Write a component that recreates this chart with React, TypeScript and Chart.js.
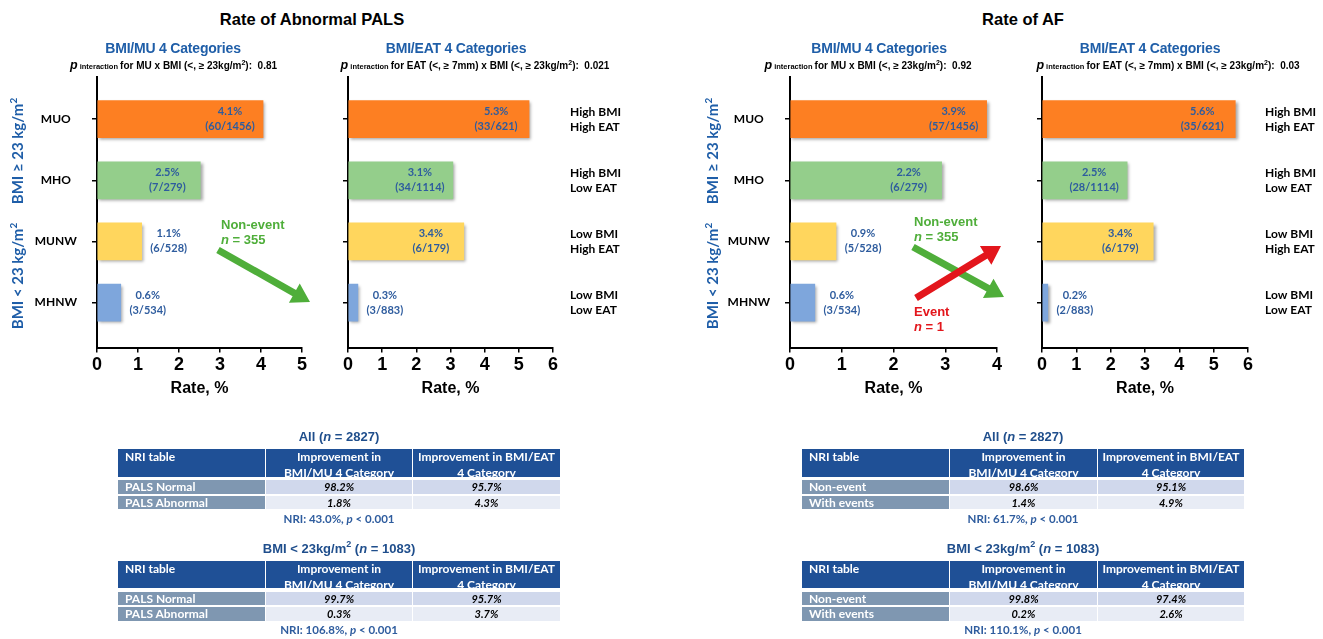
import React, { useEffect, useRef } from 'react';
import { Chart, registerables } from 'chart.js';

Chart.register(...registerables);

// ---------------- DATA ----------------
const categories = ['MUO', 'MHO', 'MUNW', 'MHNW'];
const eatGroupLabels = [
  ['High BMI', 'High EAT'],
  ['High BMI', 'Low EAT'],
  ['Low BMI', 'High EAT'],
  ['Low BMI', 'Low EAT'],
];
const barColors = ['#fd7f22', '#94ce8b', '#ffd65d', '#7ea6dc'];

// Rate of abnormal PALS
const palsMuRates = [4.05, 2.52, 1.09, 0.58];
const palsMuPct = ['4.1%', '2.5%', '1.1%', '0.6%'];
const palsMuCounts = ['(60/1456)', '(7/279)', '(6/528)', '(3/534)'];
const palsEatRates = [5.3, 3.07, 3.39, 0.29];
const palsEatPct = ['5.3%', '3.1%', '3.4%', '0.3%'];
const palsEatCounts = ['(33/621)', '(34/1114)', '(6/179)', '(3/883)'];

// Rate of AF
const afMuRates = [3.8, 2.93, 0.89, 0.48];
const afMuPct = ['3.9%', '2.2%', '0.9%', '0.6%'];
const afMuCounts = ['(57/1456)', '(6/279)', '(5/528)', '(3/534)'];
const afEatRates = [5.63, 2.48, 3.24, 0.17];
const afEatPct = ['5.6%', '2.5%', '3.4%', '0.2%'];
const afEatCounts = ['(35/621)', '(28/1114)', '(6/179)', '(2/883)'];

const palsMuXMax = 5;
const palsEatXMax = 6;
const afMuXMax = 4;
const afEatXMax = 6;

// NRI tables
const nriColHeads = [['Improvement in', 'BMI/MU 4 Category'], ['Improvement in BMI/EAT', '4 Category']];
const palsRowLabels = ['PALS Normal', 'PALS Abnormal'];
const afRowLabels = ['Non-event', 'With events'];
const palsAllMu = ['98.2%', '1.8%'];
const palsAllEat = ['95.7%', '4.3%'];
const palsLowMu = ['99.7%', '0.3%'];
const palsLowEat = ['95.7%', '3.7%'];
const afAllMu = ['98.6%', '1.4%'];
const afAllEat = ['95.1%', '4.9%'];
const afLowMu = ['99.8%', '0.2%'];
const afLowEat = ['97.4%', '2.6%'];
const nriPalsAll = '43.0%';
const nriPalsLow = '106.8%';
const nriAfAll = '61.7%';
const nriAfLow = '110.1%';

// ---------------- LAYOUT ----------------
const PLOT_TOP = 77;
const PLOT_BOTTOM = 347.5;
const AXIS_BOTTOM = 398;
const PAD_TOP = 40;
const Y_MIN = -0.69;
const Y_MAX = 3.735;

const SANS = '"Liberation Sans", Arial, sans-serif';
const CAL = 'Lato, "Open Sans", sans-serif';
const BLUE = '#1f5ea8';
const LABEL_BLUE = '#2e5c9e';
const GREEN = '#4fae3a';
const RED = '#e3161c';

type PanelProps = {
  rates: number[];
  pct: string[];
  counts: string[];
  xMax: number;
  plotLeft: number;
  plotRight: number;
  kind: 'mu' | 'eat';
};

function BarPanel(p: PanelProps) {
  const ref = useRef<HTMLCanvasElement>(null);
  const yW = p.kind === 'mu' ? 97 : 28;
  const rW = p.kind === 'eat' ? 75 : 0;
  const padR = p.kind === 'eat' ? 0 : 20;
  const left = p.plotLeft - yW;
  const width = p.plotRight + rW + padR - left;
  const top = PLOT_TOP - PAD_TOP;
  const height = AXIS_BOTTOM - top;

  useEffect(() => {
    const setTicks = (s: any) => {
      s.ticks = categories.map((_, i) => ({ value: i }));
    };
    const valueLabels = {
      id: 'valueLabels',
      afterDatasetsDraw(chart: any) {
        const ctx = chart.ctx;
        const meta = chart.getDatasetMeta(0);
        meta.data.forEach((bar: any, i: number) => {
          const { x, y, base } = bar.getProps(['x', 'y', 'base'], true);
          const len = x - base;
          const cx = len < 70 ? x + 27 : x - 33;
          ctx.save();
          ctx.font = `bold 11px ${CAL}`;
          ctx.fillStyle = LABEL_BLUE;
          ctx.textAlign = 'center';
          ctx.textBaseline = 'middle';
          ctx.fillText(p.pct[i], cx, y - 7.5);
          ctx.fillText(p.counts[i], cx, y + 7.5);
          ctx.restore();
        });
      },
    };
    const shadow = {
      id: 'barShadow',
      beforeDatasetDraw(chart: any) {
        const c = chart.ctx;
        c.save();
        c.shadowColor = 'rgba(0,0,0,0.35)';
        c.shadowBlur = 3;
        c.shadowOffsetX = 2;
        c.shadowOffsetY = 2;
      },
      afterDatasetDraw(chart: any) {
        chart.ctx.restore();
      },
    };

    const scales: any = {
      x: {
        type: 'linear',
        min: 0,
        max: p.xMax,
        ticks: {
          stepSize: 1,
          color: '#000',
          padding: 2,
          font: { family: SANS, weight: 'bold', size: 18 },
        },
        grid: { display: true, drawOnChartArea: false, drawTicks: true, tickLength: 5, color: '#000', lineWidth: 1.5 },
        border: { display: true, color: '#000', width: 2 },
        title: {
          display: true,
          text: 'Rate, %',
          color: '#000',
          padding: 0,
          font: { family: SANS, weight: 'bold', size: 16 },
        },
        afterFit: (s: any) => {
          s.height = AXIS_BOTTOM - PLOT_BOTTOM;
        },
      },
      y: {
        type: 'linear',
        min: Y_MIN,
        max: Y_MAX,
        reverse: true,
        offset: false,
        afterBuildTicks: setTicks,
        ticks: {
          callback: (v: number) => (p.kind === 'mu' && Number.isInteger(v) ? categories[v] : ''),
          color: '#000',
          crossAlign: 'center',
          padding: 15,
          font: { family: CAL, weight: 'bold', size: 12 },
        },
        grid: { display: true, offset: false, drawOnChartArea: false, drawTicks: true, tickLength: 5, color: '#000', lineWidth: 1.5 },
        border: { display: true, color: '#000', width: 2 },
        afterFit: (s: any) => {
          s.width = yW;
        },
      },
    };
    if (p.kind === 'eat') {
      scales.y2 = {
        type: 'linear',
        position: 'right',
        min: Y_MIN,
        max: Y_MAX,
        reverse: true,
        offset: false,
        afterBuildTicks: setTicks,
        ticks: {
          callback: (v: number) => (Number.isInteger(v) ? eatGroupLabels[v] : ''),
          color: '#000',
          crossAlign: 'near',
          padding: 17,
          font: { family: CAL, weight: 'bold', size: 12, lineHeight: 1.25 },
        },
        grid: { display: false, drawTicks: false },
        border: { display: false },
        afterFit: (s: any) => {
          s.width = rW;
        },
      };
    }

    const chart = new Chart(ref.current as HTMLCanvasElement, {
      type: 'bar',
      data: {
        datasets: [
          {
            data: p.rates.map((r, i) => ({ x: r, y: i })) as any,
            backgroundColor: barColors,
            borderWidth: 0,
            barThickness: 37,
            yAxisID: 'y',
          } as any,
        ],
      },
      options: {
        indexAxis: 'y',
        animation: false,
        responsive: false,
        maintainAspectRatio: false,
        layout: { padding: { top: PAD_TOP, left: 0, right: padR, bottom: 0 } },
        plugins: { legend: { display: false }, tooltip: { enabled: false } },
        scales,
      } as any,
      plugins: [shadow, valueLabels],
    });
    return () => chart.destroy();
  }, []);

  return (
    <canvas
      ref={ref}
      width={width}
      height={height}
      style={{ position: 'absolute', left, top, width, height }}
    />
  );
}

function T({ x, y, children, style }: { x: number; y: number; children: any; style?: any }) {
  return (
    <div
      style={{
        position: 'absolute',
        left: x,
        top: y,
        transform: 'translate(-50%, -50%)',
        whiteSpace: 'pre',
        ...style,
      }}
    >
      {children}
    </div>
  );
}

function TL({ x, y, children, style }: { x: number; y: number; children: any; style?: any }) {
  return (
    <div
      style={{
        position: 'absolute',
        left: x,
        top: y,
        transform: 'translateY(-50%)',
        whiteSpace: 'pre',
        ...style,
      }}
    >
      {children}
    </div>
  );
}

const mainTitle = { fontFamily: SANS, fontWeight: 'bold', fontSize: 16.5, color: '#000' };
const subTitle = { fontFamily: SANS, fontWeight: 'bold', fontSize: 14, color: BLUE, letterSpacing: -0.2 };
const pLine = { fontFamily: SANS, fontWeight: 'bold', fontSize: 10, color: '#000' };

function PLine({ x, factor, value }: { x: number; factor: string; value: string }) {
  return (
    <T x={x} y={65} style={pLine}>
      <span style={{ fontStyle: 'italic', fontSize: 12.5 }}>p</span>
      <span style={{ fontSize: 7.5 }}> interaction </span>
      {`for ${factor} x BMI (<, \u2265 23kg/m`}
      <sup style={{ fontSize: 7, lineHeight: 0 }}>2</sup>
      {`):  ${value}`}
    </T>
  );
}

function RotLabel({ x, y, sign }: { x: number; y: number; sign: string }) {
  return (
    <div
      style={{
        position: 'absolute',
        left: x,
        top: y,
        transform: 'translate(-50%, -50%) rotate(-90deg)',
        whiteSpace: 'pre',
        fontFamily: CAL,
        fontWeight: 'bold',
        fontSize: 15,
        color: BLUE,
      }}
    >
      {`BMI ${sign} 23 kg/m`}
      <sup style={{ fontSize: 10, lineHeight: 0 }}>2</sup>
    </div>
  );
}

function arrowPoints(x1: number, y1: number, x2: number, y2: number, w: number, hw: number, hl: number) {
  const dx = x2 - x1;
  const dy = y2 - y1;
  const L = Math.hypot(dx, dy);
  const ux = dx / L;
  const uy = dy / L;
  const nx = -uy;
  const ny = ux;
  const bx = x2 - ux * hl;
  const by = y2 - uy * hl;
  const pts = [
    [x1 + nx * w / 2, y1 + ny * w / 2],
    [bx + nx * w / 2, by + ny * w / 2],
    [bx + nx * hw / 2, by + ny * hw / 2],
    [x2, y2],
    [bx - nx * hw / 2, by - ny * hw / 2],
    [bx - nx * w / 2, by - ny * w / 2],
    [x1 - nx * w / 2, y1 - ny * w / 2],
  ];
  return pts.map((q) => q.join(',')).join(' ');
}

type TableProps = {
  xs: number[];
  titleY: number;
  title: any;
  header: number[];
  rows: number[][];
  rowLabels: string[];
  mu: string[];
  eat: string[];
  nriY: number;
  nri: string;
};

const HEAD_BG = '#1f5096';
const LABEL_BG = '#7f97b1';
const ROW_BG = ['#d0d8ec', '#e8ecf5'];

function NriTable(t: TableProps) {
  const cx = (t.xs[0] + t.xs[3]) / 2;
  const cell = (i: number, top: number, bottom: number, bg: string, content: any, extra: any = {}) => (
    <div
      key={`${i}-${top}`}
      style={{
        position: 'absolute',
        left: t.xs[i] + (i > 0 ? 1 : 0),
        top,
        width: t.xs[i + 1] - t.xs[i] - (i > 0 ? 1 : 0),
        height: bottom - top,
        background: bg,
        overflow: 'hidden',
        boxSizing: 'border-box',
        ...extra,
      }}
    >
      {content}
    </div>
  );
  const headStyle = {
    color: '#fff',
    fontFamily: CAL,
    fontWeight: 'bold',
    fontSize: 12,
    lineHeight: '15.5px',
  };
  return (
    <>
      <T x={cx} y={t.titleY} style={{ fontFamily: SANS, fontWeight: 'bold', fontSize: 13, color: '#1f4e8c' }}>
        {t.title}
      </T>
      {cell(0, t.header[0], t.header[1], HEAD_BG, 'NRI table', { ...headStyle, paddingLeft: 7 })}
      {nriColHeads.map((h, j) =>
        cell(j + 1, t.header[0], t.header[1], HEAD_BG, h.map((l) => <div key={l}>{l}</div>), {
          ...headStyle,
          textAlign: 'center',
        })
      )}
      {t.rows.map((r, k) => (
        <React.Fragment key={k}>
          {cell(0, r[0], r[1], LABEL_BG, t.rowLabels[k], {
            color: '#fff',
            fontFamily: CAL,
            fontWeight: 'bold',
            fontSize: 12,
            lineHeight: `${r[1] - r[0]}px`,
            paddingLeft: 7,
          })}
          {[t.mu[k], t.eat[k]].map((v, j) =>
            cell(j + 1, r[0], r[1], ROW_BG[k], v, {
              color: '#000',
              fontFamily: CAL,
              fontWeight: 'bold',
              fontStyle: 'italic',
              fontSize: 11,
              lineHeight: `${r[1] - r[0]}px`,
              textAlign: 'center',
            })
          )}
        </React.Fragment>
      ))}
      <T x={cx} y={t.nriY} style={{ fontFamily: CAL, fontWeight: 'bold', fontSize: 11.5, color: LABEL_BLUE }}>
        {`NRI: ${t.nri}, `}
        <i>p</i>
        {' < 0.001'}
      </T>
    </>
  );
}

const allTitle = (
  <>
    {'All ('}
    <i>n</i>
    {' = 2827)'}
  </>
);
const lowTitle = (
  <>
    {'BMI < 23kg/m'}
    <sup style={{ fontSize: 9, lineHeight: 0 }}>2</sup>
    {' ('}
    <i>n</i>
    {' = 1083)'}
  </>
);

export default function App() {
  const leftXs = [118, 265, 412, 560];
  const rightXs = [802, 949, 1097, 1244];
  const topHeader = [449, 477];
  const topRows = [
    [480, 494],
    [495.5, 509],
  ];
  const botHeader = [561, 588];
  const botRows = [
    [591.5, 605],
    [607, 620.5],
  ];
  const arrowText = { fontFamily: SANS, fontWeight: 'bold', fontSize: 13 };

  return (
    <div style={{ position: 'absolute', left: 0, top: 0, width: 1323, height: 639, background: '#fff', overflow: 'hidden' }}>
      <BarPanel rates={palsMuRates} pct={palsMuPct} counts={palsMuCounts} xMax={palsMuXMax} plotLeft={97} plotRight={302} kind="mu" />
      <BarPanel rates={palsEatRates} pct={palsEatPct} counts={palsEatCounts} xMax={palsEatXMax} plotLeft={348} plotRight={553} kind="eat" />
      <BarPanel rates={afMuRates} pct={afMuPct} counts={afMuCounts} xMax={afMuXMax} plotLeft={790} plotRight={997} kind="mu" />
      <BarPanel rates={afEatRates} pct={afEatPct} counts={afEatCounts} xMax={afEatXMax} plotLeft={1042} plotRight={1248} kind="eat" />

      <T x={312} y={19} style={mainTitle}>Rate of Abnormal PALS</T>
      <T x={1023} y={19} style={mainTitle}>Rate of AF</T>

      <T x={173} y={48} style={subTitle}>BMI/MU 4 Categories</T>
      <T x={456} y={48} style={subTitle}>BMI/EAT 4 Categories</T>
      <T x={879} y={48} style={subTitle}>BMI/MU 4 Categories</T>
      <T x={1150} y={48} style={subTitle}>BMI/EAT 4 Categories</T>

      <PLine x={173.5} factor="MU" value="0.81" />
      <PLine x={475} factor={'EAT (<, \u2265 7mm)'} value="0.021" />
      <PLine x={868} factor="MU" value="0.92" />
      <PLine x={1168} factor={'EAT (<, \u2265 7mm)'} value="0.03" />

      <RotLabel x={17} y={151} sign={'\u2265'} />
      <RotLabel x={17} y={276} sign="<" />
      <RotLabel x={712} y={151} sign={'\u2265'} />
      <RotLabel x={712} y={276} sign="<" />

      <svg width={1323} height={639} style={{ position: 'absolute', left: 0, top: 0, pointerEvents: 'none' }}>
        <polygon points={arrowPoints(218, 250, 310, 302, 7, 22, 18)} fill={GREEN} />
        <polygon points={arrowPoints(913, 247, 1004, 297, 7, 22, 18)} fill={GREEN} />
        <polygon points={arrowPoints(916, 298, 1001, 246, 7, 22, 18)} fill={RED} />
      </svg>

      <TL x={221} y={224} style={{ ...arrowText, color: GREEN }}>Non-event</TL>
      <TL x={221} y={239} style={{ ...arrowText, color: GREEN }}>
        <i>n</i>
        {' = 355'}
      </TL>
      <TL x={914} y={221} style={{ ...arrowText, color: GREEN }}>Non-event</TL>
      <TL x={914} y={236} style={{ ...arrowText, color: GREEN }}>
        <i>n</i>
        {' = 355'}
      </TL>
      <TL x={914} y={311} style={{ ...arrowText, color: RED }}>Event</TL>
      <TL x={914} y={326} style={{ ...arrowText, color: RED }}>
        <i>n</i>
        {' = 1'}
      </TL>

      <NriTable xs={leftXs} titleY={436} title={allTitle} header={topHeader} rows={topRows} rowLabels={palsRowLabels} mu={palsAllMu} eat={palsAllEat} nriY={518} nri={nriPalsAll} />
      <NriTable xs={leftXs} titleY={548} title={lowTitle} header={botHeader} rows={botRows} rowLabels={palsRowLabels} mu={palsLowMu} eat={palsLowEat} nriY={629} nri={nriPalsLow} />
      <NriTable xs={rightXs} titleY={436} title={allTitle} header={topHeader} rows={topRows} rowLabels={afRowLabels} mu={afAllMu} eat={afAllEat} nriY={518} nri={nriAfAll} />
      <NriTable xs={rightXs} titleY={548} title={lowTitle} header={botHeader} rows={botRows} rowLabels={afRowLabels} mu={afLowMu} eat={afLowEat} nriY={629} nri={nriAfLow} />
    </div>
  );
}
